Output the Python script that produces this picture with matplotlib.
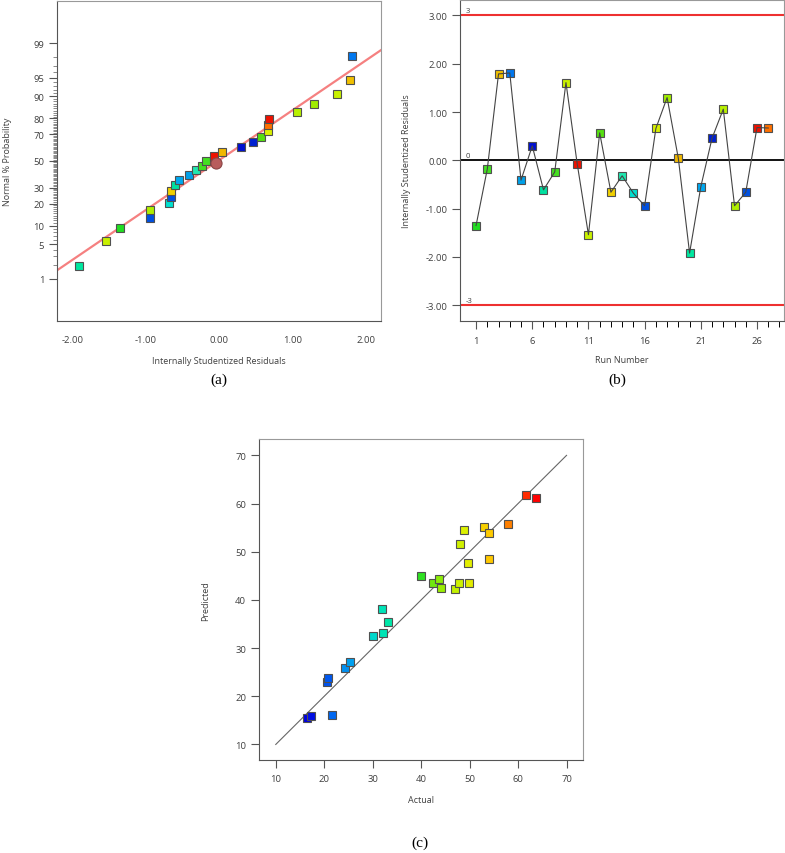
import matplotlib
matplotlib.use("Agg")
import matplotlib.pyplot as plt
from matplotlib.colors import LinearSegmentedColormap, Normalize
from statistics import NormalDist

plt.rcParams['font.family'] = ['Open Sans', 'DejaVu Sans']

# residuals by run number (panel b)
runs = list(range(1, 28))
residuals = [-1.35, -0.18, 1.79, 1.81, -0.41, 0.30, -0.61, -0.24, 1.61, -0.07,
             -1.54, 0.57, -0.66, -0.32, -0.68, -0.94, 0.66, 1.30, 0.04, -1.92,
             -0.545, 0.46, 1.06, -0.94, -0.66, 0.68, 0.67]
run_colors = ['#22dd22', '#44e022', '#f0c000', '#0077ee', '#00a0e8', '#0010d0',
              '#00e0a0', '#44e020', '#c8f000', '#ee1100', '#c8f000', '#55e010',
              '#f0d000', '#20e8b0', '#00e0d0', '#0050e0', '#d8f000', '#a0ec00',
              '#f0b800', '#00e8a0', '#00a8f0', '#0020d0', '#b8f000', '#b0ee00',
              '#0050e0', '#ee1100', '#ff7000']

# normal % probability of the ranked residuals (panel a)
probabilities = [1.9, 5.6, 9.3, 13.0, 16.7, 20.4, 24.1, 27.8, 31.5, 35.2, 38.9,
                 42.6, 46.3, 50.0, 53.7, 57.4, 61.1, 64.8, 68.5, 72.2, 75.9,
                 79.6, 83.3, 87.0, 90.7, 94.4, 98.1]
# rank order of runs as seen in the plot
rank_order = [20, 11, 1, 16, 24, 15, 25, 13, 7, 21, 5, 14, 8, 2, 10, 19, 6, 22,
              12, 17, 27, 26, 23, 18, 9, 3, 4]
highlight_x, highlight_p = -0.05, 48.2
fit_x = [-2.21, 2.21]
fit_p = [1.56, 98.57]
prob_ticks = [1, 5, 10, 20, 30, 50, 70, 80, 90, 95, 99]

# actual vs predicted (panel c)
actual = [16.4, 17.2, 21.7, 20.6, 20.8, 24.3, 25.3, 30.0, 32.1, 32.0, 33.2,
          39.9, 42.5, 43.6, 44.1, 46.9, 47.8, 49.9, 48.1, 48.9, 49.6, 53.0,
          54.0, 54.1, 57.9, 61.6, 63.6]
predicted = [15.5, 15.9, 16.2, 22.9, 23.8, 25.8, 27.1, 32.6, 33.2, 38.1, 35.5,
             44.9, 43.6, 44.3, 42.5, 42.2, 43.6, 43.6, 51.6, 54.6, 47.6, 55.2,
             53.9, 48.5, 55.8, 61.8, 61.2]

jet_like = LinearSegmentedColormap.from_list('de', [
    '#0000e0', '#0060f0', '#00a8f0', '#00e0c8', '#00ec90', '#30e020',
    '#a8f000', '#e0f000', '#ffc800', '#ff7000', '#ff0000'])

inv = NormalDist().inv_cdf
txt = '#404040'
edge = '#505050'

fig = plt.figure(figsize=(7.85, 8.54), dpi=100)
ax_a = fig.add_axes([0.0732, 0.6230, 0.4121, 0.3747])
ax_b = fig.add_axes([0.5864, 0.6233, 0.4123, 0.3755])
ax_c = fig.add_axes([0.3303, 0.1085, 0.4124, 0.3763])

for ax in (ax_a, ax_b, ax_c):
    ax.spines['left'].set_color('#555555')
    ax.spines['bottom'].set_color('#555555')
    ax.spines['top'].set_color('#999999')
    ax.spines['right'].set_color('#999999')
    ax.tick_params(colors='#555555', labelcolor=txt, labelsize=6.8)

# ---- (a) normal probability plot
ax_a.plot(fit_x, [inv(p / 100) for p in fit_p], color='#f58080', lw=1.6, zorder=1)
for p, r in zip(probabilities, rank_order):
    ax_a.plot(residuals[r - 1], inv(p / 100), 's', ms=5.3, mfc=run_colors[r - 1],
              mec=edge, mew=0.8, zorder=3)
ax_a.plot(highlight_x, inv(highlight_p / 100), 'o', ms=8, mfc='#b85c5c',
          mec='#8a4545', mew=0.8, zorder=4)
ax_a.set_xlim(-2.21, 2.21)
ax_a.set_ylim(-3.16, 3.16)
ax_a.set_xticks([-2, -1, 0, 1, 2])
ax_a.set_xticklabels(['-2.00', '-1.00', '0.00', '1.00', '2.00'])
ax_a.set_yticks([inv(p / 100) for p in prob_ticks])
ax_a.set_yticklabels([str(p) for p in prob_ticks])
ax_a.set_yticks([inv(p / 100) for p in range(1, 100) if p not in prob_ticks], minor=True)
ax_a.tick_params(axis='x', length=0, pad=10)
ax_a.tick_params(axis='y', which='major', length=6, width=0.8)
ax_a.tick_params(axis='y', which='minor', length=3, width=0.6, color='#777777')
ax_a.set_xlabel('Internally Studentized Residuals', fontsize=6.5, color=txt)
ax_a.set_ylabel('Normal % Probability', fontsize=6.5, color=txt)
ax_a.xaxis.set_label_coords(0.5, -0.108)
ax_a.yaxis.set_label_coords(-0.142, 0.5)

# ---- (b) residuals vs run
ax_b.axhline(3, color='#ee3030', lw=1.5, zorder=1)
ax_b.axhline(-3, color='#ee3030', lw=1.5, zorder=1)
ax_b.axhline(0, color='#111111', lw=1.4, zorder=1)
for r, v, c in zip(runs, residuals, run_colors):
    ax_b.plot(r, v, 's', ms=5.3, mfc=c, mec=edge, mew=0.8, zorder=3)
ax_b.plot(runs, residuals, color='#444444', lw=0.8, zorder=4)
ax_b.text(0.1, 3.07, '3', fontsize=5.5, color=txt)
ax_b.text(0.1, 0.07, '0', fontsize=5.5, color=txt)
ax_b.text(0.1, -2.93, '-3', fontsize=5.5, color=txt)
ax_b.set_xlim(-0.4, 28.4)
ax_b.set_ylim(-3.32, 3.32)
ax_b.set_xticks([1, 6, 11, 16, 21, 26])
ax_b.set_xticks(range(1, 29), minor=True)
ax_b.set_yticks([-3, -2, -1, 0, 1, 2, 3])
ax_b.set_yticklabels(['-3.00', '-2.00', '-1.00', '0.00', '1.00', '2.00', '3.00'])
ax_b.tick_params(axis='x', which='major', length=6, width=0.8, pad=5)
ax_b.tick_params(axis='x', which='minor', length=4, width=0.7)
ax_b.tick_params(axis='y', length=6, width=0.8)
ax_b.set_xlabel('Run Number', fontsize=6.5, color=txt)
ax_b.set_ylabel('Internally Studentized Residuals', fontsize=6.5, color=txt)
ax_b.xaxis.set_label_coords(0.5, -0.108)
ax_b.yaxis.set_label_coords(-0.152, 0.5)

# ---- (c) predicted vs actual
ax_c.plot([10, 70], [10, 70], color='#666666', lw=0.8, zorder=1)
norm = Normalize(min(actual), max(actual))
for a, p in zip(actual, predicted):
    ax_c.plot(a, p, 's', ms=5.3, mfc=jet_like(norm(a)), mec=edge, mew=0.8, zorder=3)
ax_c.set_xlim(6.6, 73.4)
ax_c.set_ylim(6.7, 73.4)
ax_c.set_xticks(range(10, 71, 10))
ax_c.set_yticks(range(10, 71, 10))
ax_c.tick_params(length=6, width=0.8)
ax_c.set_xlabel('Actual', fontsize=6.5, color=txt)
ax_c.set_ylabel('Predicted', fontsize=6.5, color=txt)
ax_c.xaxis.set_label_coords(0.5, -0.108)
ax_c.yaxis.set_label_coords(-0.152, 0.5)

for x, y, s in [(0.279, 0.555, '(a)'), (0.786, 0.555, '(b)'), (0.535, 0.013, '(c)')]:
    fig.text(x, y, s, ha='center', va='center', fontsize=11,
             family=['Liberation Serif', 'DejaVu Serif'])

fig.savefig('out.png', dpi=100)
